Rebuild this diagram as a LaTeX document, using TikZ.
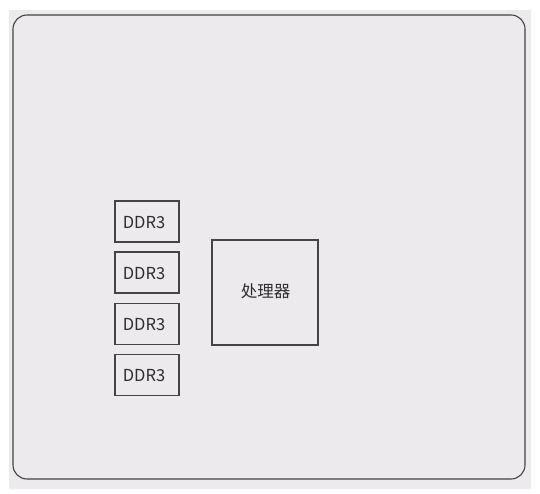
\documentclass[tikz,border=0pt]{standalone}
\usepackage{fontspec}
\newfontfamily\cjk{Noto Sans CJK SC}
\definecolor{bggray}{HTML}{ECEAEC}
\definecolor{linegray}{HTML}{444444}
\begin{document}
\begin{tikzpicture}[x=1pt,y=-1pt,
  box/.style={draw=linegray,line width=1.1pt,inner sep=0pt},
  ddr/.style={box,minimum width=64pt,minimum height=41pt},
  lbl/.style={inner sep=0pt,font=\cjk\fontsize{16.5}{19}\selectfont,text=black!82}]
\useasboundingbox (0,0) rectangle (540,494);
\fill[white] (0,0) rectangle (540,494);
\fill[bggray] (9,10) rectangle (531,489);
\draw[linegray,line width=1.1pt,rounded corners=14pt] (13,15) rectangle (525,479);
\node[ddr] (d1) at (147,221.5) {};
\node[ddr] (d2) at (147,272.5) {};
\node[ddr] (d3) at (147,324) {};
\node[ddr] (d4) at (147,375) {};
\node[lbl] (t1) at (144,222.5) {DDR3};
\node[lbl] (t2) at (144,273.5) {DDR3};
\node[lbl] (t3) at (144,325) {DDR3};
\node[lbl] (t4) at (144,376) {DDR3};
\node[box,minimum width=106pt,minimum height=105pt] (cpu) at (265,292.5) {};
\node[lbl] (cpulabel) at (265.5,291.3) {处理器};
\end{tikzpicture}
\end{document}
